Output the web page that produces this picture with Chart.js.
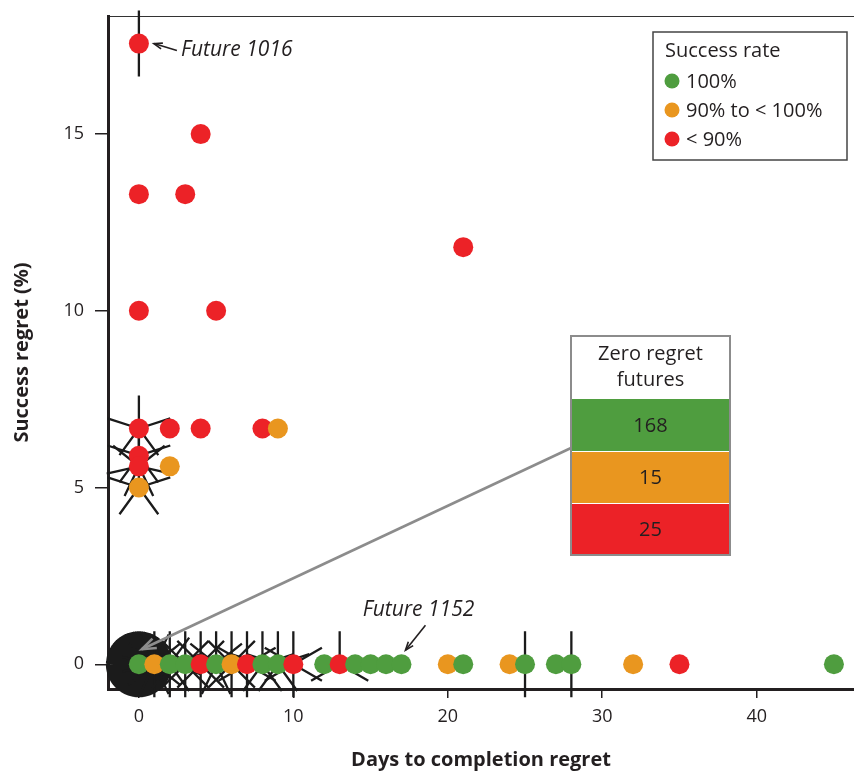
<!DOCTYPE html>
<html><head><meta charset="utf-8">
<script src="https://cdn.jsdelivr.net/npm/chart.js@4"></script>
<style>html,body{margin:0;padding:0;background:#fff;}canvas{display:block;}</style>
</head><body>
<canvas id="c" width="854" height="772"></canvas>
<script>
// ---- data ----
const daysRegret    = [0, 4, 0, 3, 21, 0, 5, 0, 2, 4, 8, 9, 0, 0, 2, 0,
                       0, 1, 2, 3, 4, 5, 6, 7, 8, 9, 10, 12, 13, 14, 15, 16, 17, 20, 21, 24, 25, 27, 28, 32, 35, 45];
const successRegret = [17.56, 15.0, 13.3, 13.3, 11.8, 10.0, 10.0, 6.67, 6.67, 6.67, 6.67, 6.67, 5.9, 5.6, 5.6, 5.0,
                       0, 0, 0, 0, 0, 0, 0, 0, 0, 0, 0, 0, 0, 0, 0, 0, 0, 0, 0, 0, 0, 0, 0, 0, 0, 0];
const successClass  = ['r','r','r','r','r','r','r','r','r','r','r','o','r','r','o','o',
                       'g','o','g','g','r','g','o','r','g','g','r','g','r','g','g','g','g','o','g','o','g','g','g','o','r','g'];
const futureCount   = [2, 1, 1, 1, 1, 1, 1, 5, 1, 1, 1, 1, 5, 7, 1, 5,
                       208, 14, 10, 8, 8, 7, 8, 6, 5, 5, 6, 1, 3, 1, 1, 1, 1, 1, 1, 1, 2, 1, 2, 1, 1, 1];
const xTicks = [0, 10, 20, 30, 40];
const yTicks = [0, 5, 10, 15];
const legendTitle  = 'Success rate';
const legendLabels = ['100%', '90% to < 100%', '< 90%'];
const legendClasses = ['g', 'o', 'r'];
const zeroRegretTitle   = ['Zero regret', 'futures'];
const zeroRegretCounts  = [168, 15, 25];
const zeroRegretClasses = ['g', 'o', 'r'];

// ---- styling ----
const FONT = '"Open Sans", "Noto Sans", sans-serif';
const COLORS = { g: '#4F9D3F', o: '#E9961F', r: '#EC2227' };
const INK = '#231f20';
const PETAL = 33;

const points = daysRegret.map((d, i) => ({ x: d, y: successRegret[i] }));
const pointColors = successClass.map(c => COLORS[c]);

function arrow(ctx, x1, y1, x2, y2, head, color, width) {
  ctx.save();
  ctx.strokeStyle = color; ctx.lineWidth = width;
  ctx.beginPath(); ctx.moveTo(x1, y1); ctx.lineTo(x2, y2); ctx.stroke();
  const a = Math.atan2(y2 - y1, x2 - x1), w = 0.35;
  ctx.beginPath();
  ctx.moveTo(x2 - head * Math.cos(a - w), y2 - head * Math.sin(a - w));
  ctx.lineTo(x2, y2);
  ctx.lineTo(x2 - head * Math.cos(a + w), y2 - head * Math.sin(a + w));
  ctx.stroke();
  ctx.restore();
}

const sunflower = {
  id: 'sunflower',
  beforeDatasetsDraw(chart) {
    const { ctx, scales: { x, y } } = chart;
    ctx.save();
    ctx.strokeStyle = '#1b1b1b'; ctx.lineWidth = 2.3;
    for (let i = 0; i < daysRegret.length; i++) {
      const n = futureCount[i];
      if (n < 2) continue;
      const px = x.getPixelForValue(daysRegret[i]), py = y.getPixelForValue(successRegret[i]);
      ctx.beginPath();
      for (let k = 0; k < n; k++) {
        const a = Math.PI / 2 + 2 * Math.PI * k / n;
        ctx.moveTo(px, py);
        ctx.lineTo(px + PETAL * Math.cos(a), py - PETAL * Math.sin(a));
      }
      ctx.stroke();
    }
    ctx.restore();
  }
};

const decorations = {
  id: 'decorations',
  beforeDraw(chart) {
    const { ctx, chartArea: ca } = chart;
    ctx.save();
    ctx.strokeStyle = '#333'; ctx.lineWidth = 1.2;
    ctx.beginPath(); ctx.moveTo(ca.left, ca.top + 0.5); ctx.lineTo(ca.right, ca.top + 0.5); ctx.stroke();
    ctx.restore();
  },
  afterDraw(chart) {
    const { ctx, chartArea: ca, scales: { x, y } } = chart;
    ctx.save();
    // legend
    const lx = ca.right - 201, ly = ca.top + 16, lw = 194, lh = 128;
    ctx.fillStyle = '#fff'; ctx.fillRect(lx, ly, lw, lh);
    ctx.strokeStyle = '#444'; ctx.lineWidth = 1.5; ctx.strokeRect(lx, ly, lw, lh);
    ctx.fillStyle = INK; ctx.font = '20px ' + FONT; ctx.textBaseline = 'middle'; ctx.textAlign = 'left';
    ctx.fillText(legendTitle, lx + 12, ly + 19);
    legendLabels.forEach((t, i) => {
      const cy = ly + 49 + i * 29;
      ctx.fillStyle = COLORS[legendClasses[i]];
      ctx.beginPath(); ctx.arc(lx + 19, cy, 7.5, 0, Math.PI * 2); ctx.fill();
      ctx.fillStyle = INK; ctx.fillText(t, lx + 33, cy + 1);
    });

    // zero regret inset
    const p0x = x.getPixelForValue(0), p0y = y.getPixelForValue(0);
    const bx = 571, by = 336, bw = 159, hh = 63, bh = 52;
    arrow(ctx, bx, by + hh + 49, p0x + 3, p0y - 15, 15, '#8c8c8c', 2.6);
    ctx.fillStyle = '#fff'; ctx.fillRect(bx, by, bw, hh);
    zeroRegretCounts.forEach((v, i) => {
      ctx.fillStyle = COLORS[zeroRegretClasses[i]];
      ctx.fillRect(bx, by + hh + i * bh + (i ? 1 : 0), bw, bh - (i ? 1 : 0));
      ctx.fillStyle = INK; ctx.textAlign = 'center'; ctx.font = '20px ' + FONT;
      ctx.fillText(String(v), bx + bw / 2, by + hh + i * bh + bh / 2 + 1);
    });
    ctx.fillStyle = INK; ctx.textAlign = 'center';
    ctx.fillText(zeroRegretTitle[0], bx + bw / 2, by + 18);
    ctx.fillText(zeroRegretTitle[1], bx + bw / 2, by + 44);
    ctx.strokeStyle = '#8c8c8c'; ctx.lineWidth = 2; ctx.strokeRect(bx, by, bw, hh + 3 * bh);

    // future annotations
    const fax = x.getPixelForValue(0), fay = y.getPixelForValue(17.56);
    arrow(ctx, fax + 38, fay + 7, fax + 15, fay, 9, INK, 1.6);
    ctx.fillStyle = INK; ctx.textAlign = 'left'; ctx.font = 'italic 21px ' + FONT;
    ctx.fillText('Future 1016', fax + 42, fay + 6);
    const fbx = x.getPixelForValue(17), fby = y.getPixelForValue(0);
    arrow(ctx, fbx + 24, fby - 39, fbx + 4, fby - 14, 9, INK, 1.6);
    ctx.textAlign = 'center';
    ctx.fillText('Future 1152', fbx + 17, fby - 54);
    ctx.restore();
  }
};

new Chart(document.getElementById('c'), {
  type: 'scatter',
  data: { datasets: [{ data: points, backgroundColor: pointColors, borderWidth: 0,
    pointRadius: 10, pointHoverRadius: 10, clip: false }] },
  options: {
    responsive: false, animation: false,
    layout: { autoPadding: false, padding: { top: 16, right: 0, left: 0, bottom: 0 } },
    plugins: { legend: { display: false }, tooltip: { enabled: false } },
    scales: {
      x: {
        type: 'linear', min: -2, max: 46.3,
        afterBuildTicks: s => { s.ticks = xTicks.map(v => ({ value: v })); },
        afterFit: s => { s.height = 83; s.paddingLeft = 0; s.paddingRight = 0; },
        grid: { drawOnChartArea: false, drawTicks: true, tickLength: 9, color: INK, lineWidth: 1.5 },
        border: { display: true, width: 3, color: INK },
        ticks: { color: INK, font: { family: FONT, size: 18 }, padding: 8 },
        title: { display: true, text: 'Days to completion regret', color: INK,
          font: { family: FONT, size: 20, weight: 'bold' }, padding: { top: 0, bottom: 0 } }
      },
      y: {
        type: 'linear', min: -0.70, max: 18.34,
        afterBuildTicks: s => { s.ticks = yTicks.map(v => ({ value: v })); },
        afterFit: s => { s.width = 108; s.paddingTop = 0; s.paddingBottom = 0; },
        grid: { drawOnChartArea: false, drawTicks: true, tickLength: 13, color: INK, lineWidth: 1.5 },
        border: { display: true, width: 3, color: INK },
        ticks: { color: INK, font: { family: FONT, size: 18 }, padding: 11 },
        title: { display: true, text: 'Success regret (%)', color: INK,
          font: { family: FONT, size: 20, weight: 'bold' }, padding: { top: 10, bottom: 0 } }
      }
    }
  },
  plugins: [sunflower, decorations]
});
</script>
</body></html>
